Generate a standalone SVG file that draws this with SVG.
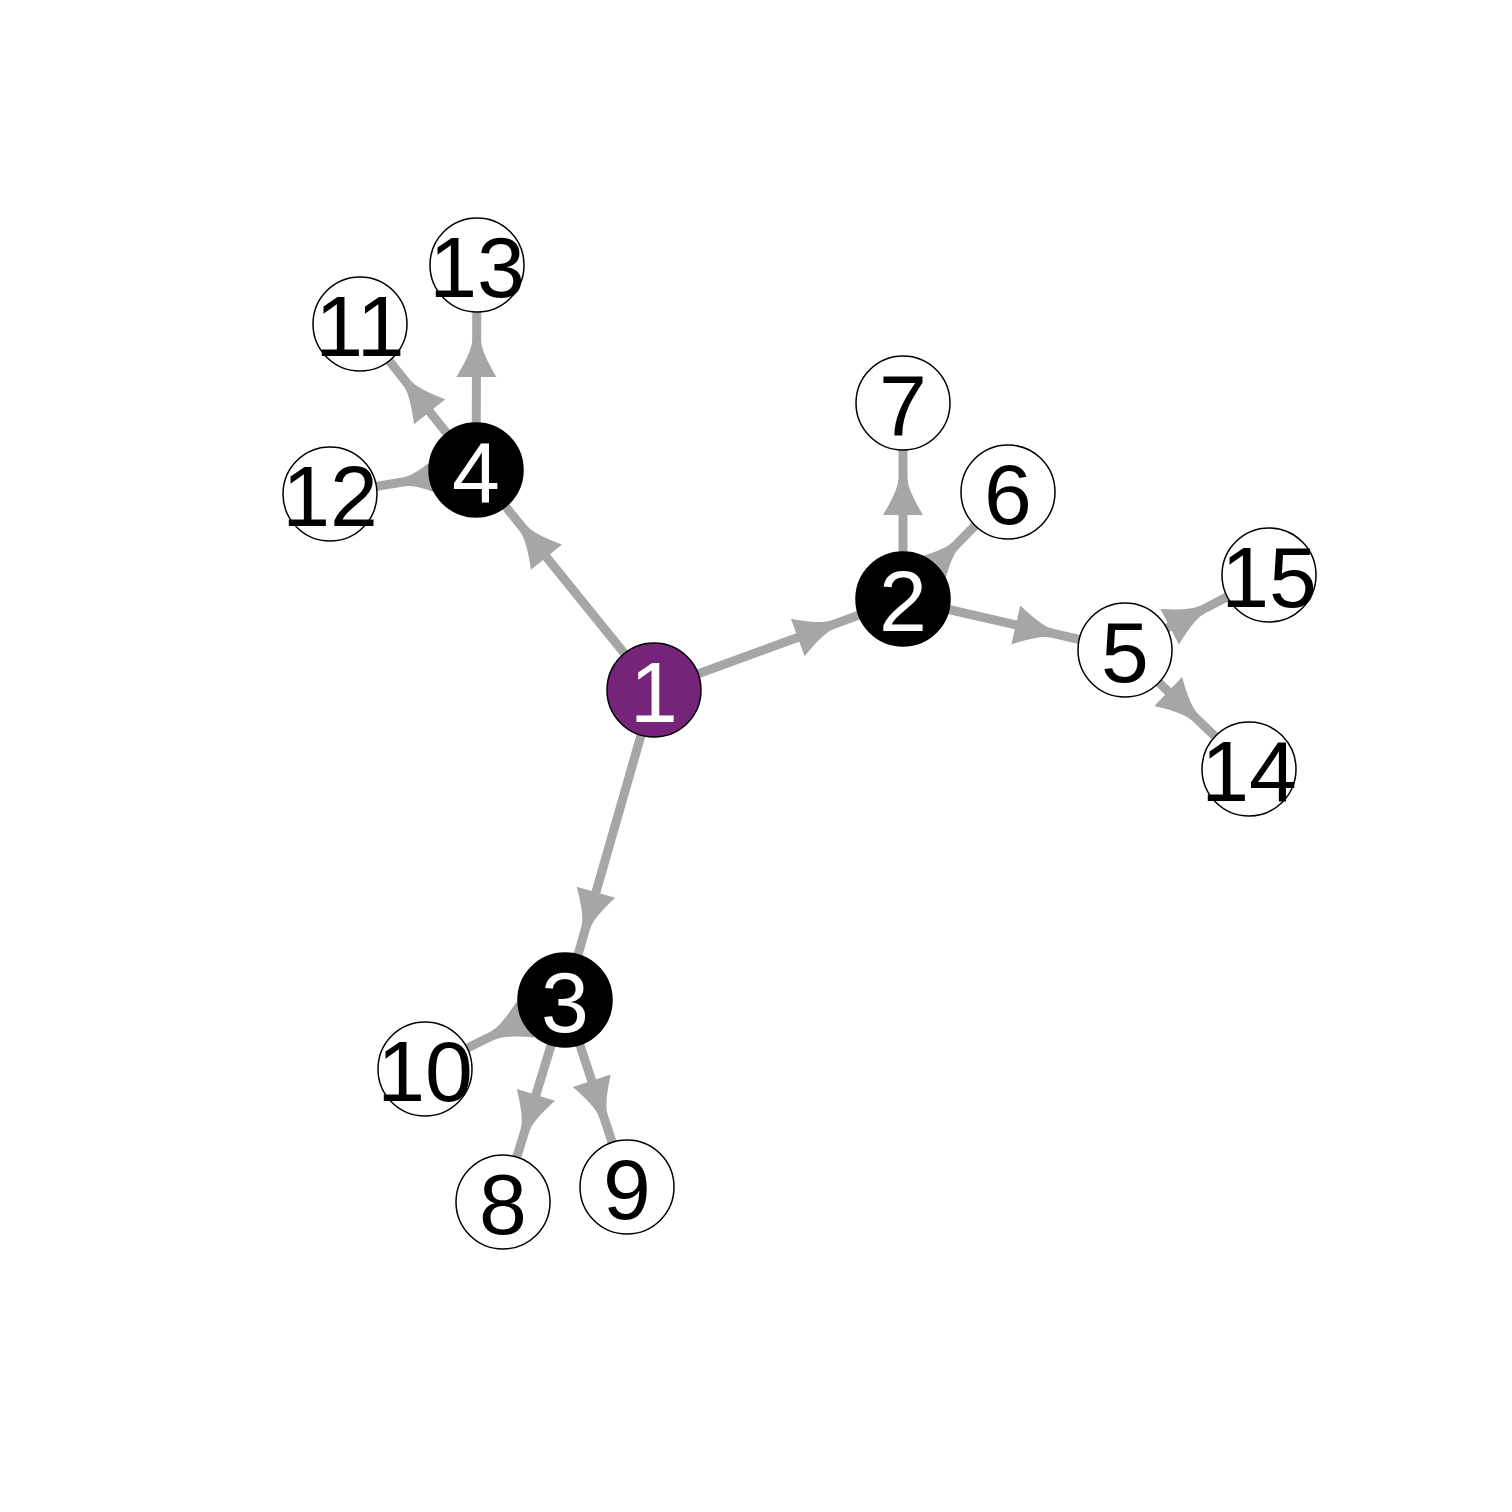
<svg xmlns="http://www.w3.org/2000/svg" xmlns:xlink="http://www.w3.org/1999/xlink" width="1512" height="1512" viewBox="0 0 1512 1512">
<style>
.e{stroke:#A6A6A6;stroke-width:9;fill:none;stroke-linecap:round}
.ah{fill:#A6A6A6}
.n{stroke:#000;stroke-width:1.5}
.w{fill:#fff}
.b{fill:#000}
.p{fill:#76237A}
text{font-family:"Liberation Sans",Arial,Helvetica,sans-serif;font-size:86px;text-anchor:middle}
.tw{fill:#fff}
.tb{fill:#000}
</style>
<defs>
<path id="ah" d="M0,-4.5 L0,4.5 Q-11,5 -36,20 L-36,-20 Q-11,-5 0,-4.5 Z"/>
</defs>
<rect width="1512" height="1512" fill="#fff"/>
<g id="edges">
<line class="e" x1="654" y1="690" x2="903" y2="599"/>
<line class="e" x1="654" y1="690" x2="565" y2="1000"/>
<line class="e" x1="654" y1="690" x2="476" y2="470"/>
<line class="e" x1="903" y1="599" x2="1125" y2="650"/>
<line class="e" x1="903" y1="599" x2="1008" y2="492"/>
<line class="e" x1="903" y1="599" x2="903" y2="403"/>
<line class="e" x1="565" y1="1000" x2="503" y2="1202"/>
<line class="e" x1="565" y1="1000" x2="627" y2="1187"/>
<line class="e" x1="565" y1="1000" x2="425" y2="1069"/>
<line class="e" x1="476" y1="470" x2="360" y2="324"/>
<line class="e" x1="476" y1="470" x2="330" y2="494"/>
<line class="e" x1="476" y1="470" x2="477" y2="265"/>
<line class="e" x1="1125" y1="650" x2="1249" y2="769"/>
<line class="e" x1="1125" y1="650" x2="1269" y2="575"/>
<use class="ah" href="#ah" transform="translate(831.6,625.1) rotate(-20.07)"/>
<use class="ah" href="#ah" transform="translate(586.0,926.9) rotate(106.0)"/>
<use class="ah" href="#ah" transform="translate(523.8,529.1) rotate(-129.0)"/>
<use class="ah" href="#ah" transform="translate(1050.9,633.0) rotate(12.94)"/>
<use class="ah" href="#ah" transform="translate(954.8,546.2) rotate(-45.5)"/>
<use class="ah" href="#ah" transform="translate(903,479) rotate(-90)"/>
<use class="ah" href="#ah" transform="translate(525.3,1129.3) rotate(107.06)"/>
<use class="ah" href="#ah" transform="translate(603.1,1114.9) rotate(71.66)"/>
<use class="ah" href="#ah" transform="translate(493.2,1035.4) rotate(153.76)"/>
<use class="ah" href="#ah" transform="translate(407.3,383.5) rotate(-128.47)"/>
<use class="ah" href="#ah" transform="translate(405.0,481.7) rotate(170.66)"/>
<use class="ah" href="#ah" transform="translate(476.6,341) rotate(-89.72)"/>
<use class="ah" href="#ah" transform="translate(1194.2,716.4) rotate(43.82)"/>
<use class="ah" href="#ah" transform="translate(1201.6,610.1) rotate(-27.51)"/>
</g>
<g id="node1"><circle class="n p" cx="654" cy="690" r="47"/><text class="tw" x="654" y="722">1</text></g>
<g id="node2"><circle class="n b" cx="903" cy="599" r="47"/><text class="tw" x="903" y="631">2</text></g>
<g id="node3"><circle class="n b" cx="565" cy="1000" r="47"/><text class="tw" x="565" y="1032">3</text></g>
<g id="node4"><circle class="n b" cx="476" cy="470" r="47"/><text class="tw" x="476" y="502">4</text></g>
<g id="node5"><circle class="n w" cx="1125" cy="650" r="47"/><text class="tb" x="1125" y="682">5</text></g>
<g id="node6"><circle class="n w" cx="1008" cy="492" r="47"/><text class="tb" x="1008" y="524">6</text></g>
<g id="node7"><circle class="n w" cx="903" cy="403" r="47"/><text class="tb" x="903" y="435">7</text></g>
<g id="node8"><circle class="n w" cx="503" cy="1202" r="47"/><text class="tb" x="503" y="1234">8</text></g>
<g id="node9"><circle class="n w" cx="627" cy="1187" r="47"/><text class="tb" x="627" y="1219">9</text></g>
<g id="node10"><circle class="n w" cx="425" cy="1069" r="47"/><text class="tb" x="425" y="1101">10</text></g>
<g id="node11"><circle class="n w" cx="360" cy="324" r="47"/><text class="tb" x="360" y="356">11</text></g>
<g id="node12"><circle class="n w" cx="330" cy="494" r="47"/><text class="tb" x="330" y="526">12</text></g>
<g id="node13"><circle class="n w" cx="477" cy="265" r="47"/><text class="tb" x="477" y="297">13</text></g>
<g id="node14"><circle class="n w" cx="1249" cy="769" r="47"/><text class="tb" x="1249" y="801">14</text></g>
<g id="node15"><circle class="n w" cx="1269" cy="575" r="47"/><text class="tb" x="1269" y="607">15</text></g>
</svg>
